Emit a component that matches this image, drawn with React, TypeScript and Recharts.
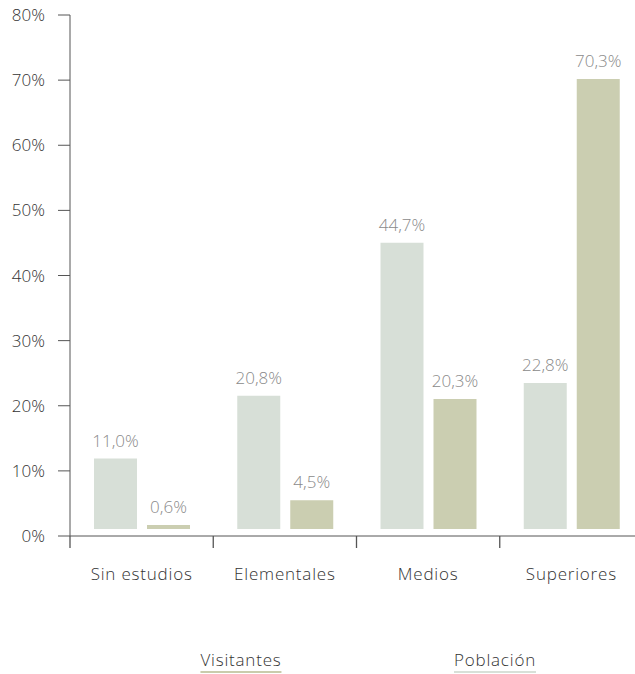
import { BarChart, Bar, XAxis, YAxis, Legend, LabelList } from 'recharts';

const categories = ['Sin estudios', 'Elementales', 'Medios', 'Superiores'];
const visitantes = [11.0, 20.8, 44.7, 22.8];
const poblacion = [0.6, 4.5, 20.3, 70.3];
const yTicks = [0, 10, 20, 30, 40, 50, 60, 70, 80];

const font = '"Open Sans", sans-serif';

const data = categories.map((name, i) => ({
  name,
  visitantes: visitantes[i],
  poblacion: poblacion[i],
}));

const pct = (v: number) => `${v.toFixed(1).replace('.', ',')}%`;

function CategoryTick(props: any) {
  const { x, y, payload } = props;
  const off = payload?.offset ?? 71.6;
  return (
    <g>
      <line x1={x - off} x2={x - off} y1={y} y2={y + 12} stroke="#555" strokeWidth={1.3} />
      <text x={x} y={y + 44} textAnchor="middle" fill="#333" fontSize={17} fontFamily={font} fontWeight={300} letterSpacing={0.8}>
        {payload.value}
      </text>
    </g>
  );
}

function LegendContent() {
  const item = (label: string, color: string, left: number) => (
    <span
      style={{
        position: 'absolute',
        left,
        top: 6,
        transform: 'translateX(-50%)',
        fontFamily: font,
        fontSize: 17,
        fontWeight: 300,
        letterSpacing: 0.8,
        color: '#333',
        lineHeight: '20px',
        paddingBottom: 1,
        borderBottom: `2px solid ${color}`,
        whiteSpace: 'nowrap',
      }}
    >
      {label}
    </span>
  );
  return (
    <div style={{ position: 'relative', height: 30, width: 648 }}>
      {item('Visitantes', '#c9ccac', 241)}
      {item('Población', '#d8e0d8', 495)}
    </div>
  );
}

export default function App() {
  return (
    <div style={{ position: 'absolute', top: 0, left: 0, width: 635, height: 674, overflow: 'hidden' }}>
      <BarChart
        width={648}
        height={674}
        data={data}
        margin={{ top: 15, right: 5, bottom: 0, left: 0 }}
        barSize={43}
        barGap={10}
      >
        <XAxis
          dataKey="name"
          tickLine={false}
          tickSize={0}
          tickMargin={0}
          height={108}
          stroke="#555"
          tick={<CategoryTick />}
          interval={0}
        />
        <YAxis
          yAxisId="axis"
          domain={[0, 80]}
          ticks={yTicks}
          allowDataOverflow
          width={70}
          tickSize={12}
          tickMargin={13}
          stroke="#555"
          tick={{ fill: '#333', fontSize: 17, fontFamily: font, fontWeight: 300 }}
          tickFormatter={(v: number) => `${v}%`}
        />
        <YAxis yAxisId="bars" hide domain={[-1.1, 80.3]} allowDataOverflow />
        <Legend verticalAlign="bottom" content={<LegendContent />} />
        <Bar yAxisId="bars" dataKey="visitantes" name="Visitantes" fill="#d7dfd7" isAnimationActive={false}>
          <LabelList dataKey="visitantes" position="top" offset={12} formatter={pct} fill="#8a8a8a" fontSize={17} fontFamily={font} fontWeight={300} />
        </Bar>
        <Bar yAxisId="bars" dataKey="poblacion" name="Población" fill="#cbceb1" isAnimationActive={false}>
          <LabelList dataKey="poblacion" position="top" offset={12} formatter={pct} fill="#8a8a8a" fontSize={17} fontFamily={font} fontWeight={300} />
        </Bar>
      </BarChart>
    </div>
  );
}
